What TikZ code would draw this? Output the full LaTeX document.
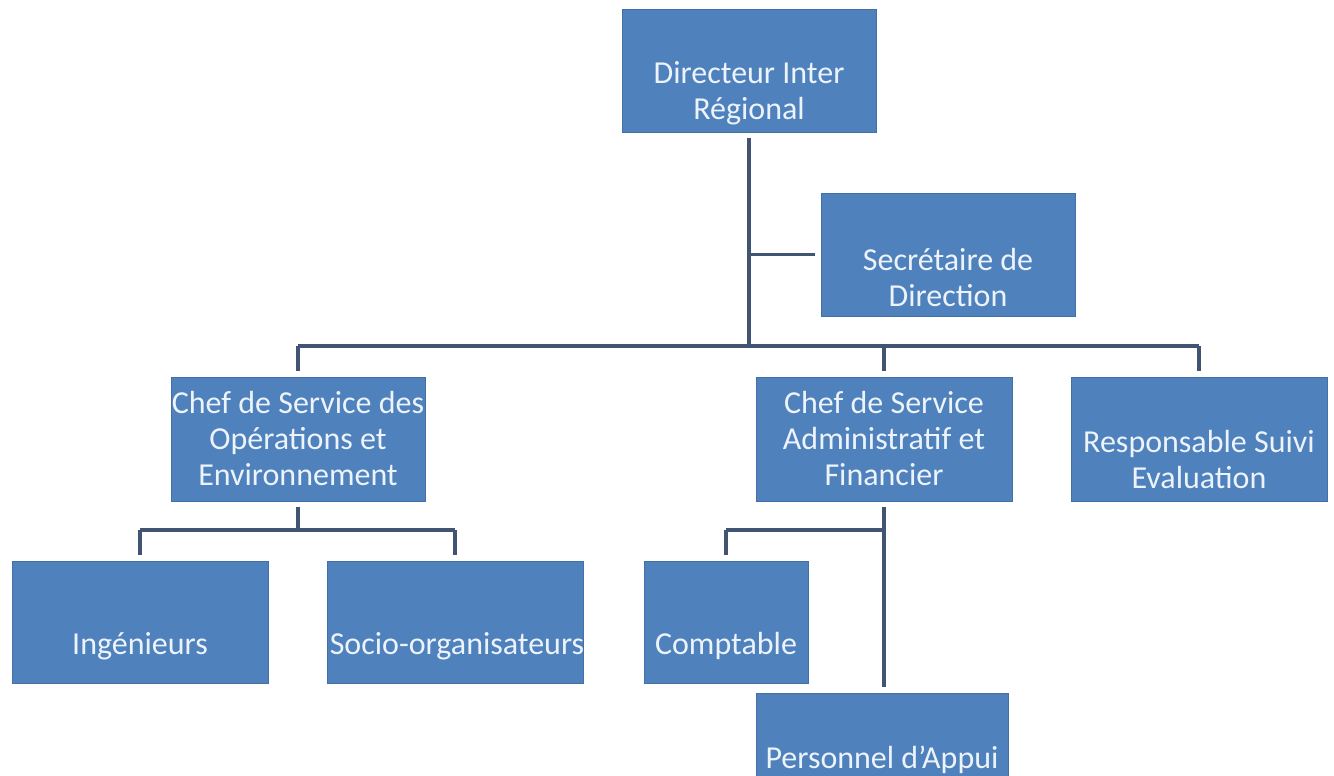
\documentclass[tikz,border=0pt]{standalone}
\usepackage{fontspec}
\setmainfont{Carlito}
\definecolor{boxfill}{RGB}{79,129,189}
\definecolor{boxline}{RGB}{68,112,166}
\definecolor{conn}{RGB}{65,85,115}
\definecolor{txtcol}{RGB}{236,243,251}
\tikzset{
  orgbox/.style={rectangle, fill=boxfill, draw=boxline, line width=0.8pt, inner sep=0pt, outer sep=6pt, minimum width=254pt, minimum height=124pt},
  orgtext/.style={text=txtcol, align=center, inner sep=0pt, font=\fontsize{32}{36}\selectfont},
  orgline/.style={draw=conn, line width=3.6pt, line join=round}
}
\begin{document}
\begin{tikzpicture}[x=1pt,y=-1pt]
\useasboundingbox (0,0) rectangle (1334,776);
\clip (0,0) rectangle (1334,776);
\fill[white] (0,0) rectangle (1334,776);
% boxes
\node[orgbox, minimum height=123pt] (dir) at (749,70.5) {};
\node[orgbox, minimum height=123pt] (sec) at (948,254.5) {};
\node[orgbox] (ops) at (298,439) {};
\node[orgbox, minimum width=256pt] (adm) at (884,439) {};
\node[orgbox, minimum width=256pt] (resp) at (1199,439) {};
\node[orgbox, minimum width=256pt, minimum height=122pt] (ing) at (140,622) {};
\node[orgbox, minimum width=256pt, minimum height=122pt] (soc) at (455,622) {};
\node[orgbox, minimum width=164pt, minimum height=122pt] (comp) at (726,622) {};
\node[orgbox, minimum width=252pt] (pers) at (882,755) {};
% texts
\node[orgtext] (dirT) at (749,93) {Directeur Inter\\Régional};
\node[orgtext] (secT) at (948,278) {Secrétaire de\\Direction};
\node[orgtext] (opsT) at (298,439) {Chef de Service des\\Opérations et\\Environnement};
\node[orgtext] (admT) at (884,439) {Chef de Service\\Administratif et\\Financier};
\node[orgtext] (respT) at (1199,460) {Responsable Suivi\\Evaluation};
\node[orgtext] (ingT) at (140,646) {Ingénieurs};
\begin{scope}
\clip (327,561) rectangle (583,683);
\node[orgtext] (socT) at (457,646) {Socio-organisateurs};
\end{scope}
\node[orgtext] (compT) at (726,646) {Comptable};
\node[orgtext] (persT) at (882,760) {Personnel d’Appui};
% connectors
\coordinate (busY) at (0,346);
\coordinate (opsY) at (0,530);
\draw[orgline] (dir.south) -- (dir.south |- busY);
\draw[orgline] (dir.south |- sec.west) -- (sec.west);
\draw[orgline] (ops.north |- busY) -- (resp.north |- busY);
\draw[orgline] (ops.north |- busY) -- (ops.north);
\draw[orgline] (adm.north |- busY) -- (adm.north);
\draw[orgline] (resp.north |- busY) -- (resp.north);
\draw[orgline] (ops.south) -- (ops.south |- opsY);
\draw[orgline] (ing.north |- opsY) -- (soc.north |- opsY);
\draw[orgline] (ing.north |- opsY) -- (ing.north);
\draw[orgline] (soc.north |- opsY) -- (soc.north);
\draw[orgline] (adm.south) -- (adm.south |- pers.north);
\draw[orgline] (comp.north |- opsY) -- (adm.south |- opsY);
\draw[orgline] (comp.north |- opsY) -- (comp.north);
\end{tikzpicture}
\end{document}
